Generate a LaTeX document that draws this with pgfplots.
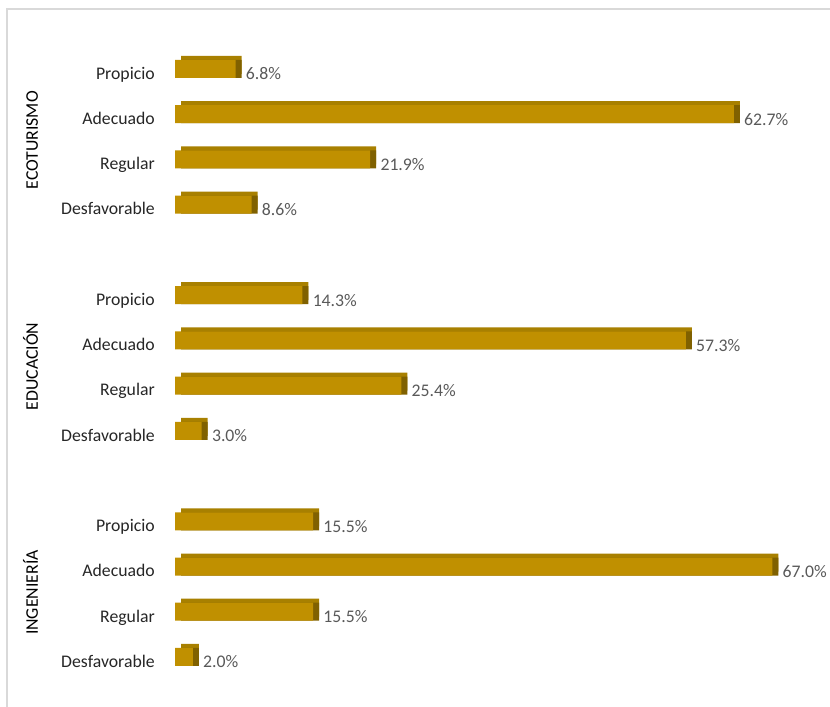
\documentclass[border=0pt]{standalone}
\usepackage{pgfplots}
\usepackage{pgfplotstable}
\pgfplotsset{compat=1.18}
\usepackage{fontspec}
\setmainfont{Carlito}
\definecolor{barfront}{HTML}{C09000}
\definecolor{bartop}{HTML}{A88000}
\definecolor{barside}{HTML}{806100}
\definecolor{valgray}{HTML}{595959}
\definecolor{catgray}{HTML}{262626}
\definecolor{framegray}{HTML}{D9D9D9}

\pgfplotstableread{
pos val
0 6.8
1 62.7
2 21.9
3 8.6
5 14.3
6 57.3
7 25.4
8 3.0
10 15.5
11 67.0
12 15.5
13 2.0
}\datatable

\begin{document}
\begin{tikzpicture}
\begin{axis}[
  scale only axis, x=6.686pt, y=33.92pt,
  xmin=-19.630, xmax=73.472, ymin=-1.5256, ymax=14.106,
  y dir=reverse, enlargelimits=false, clip=false,
  axis line style={draw=none}, major tick length=0pt,
  xtick=\empty,
  ytick={0,1,2,3,5,6,7,8,10,11,12,13},
  yticklabels={Propicio,Adecuado,Regular,Desfavorable,Propicio,Adecuado,Regular,Desfavorable,Propicio,Adecuado,Regular,Desfavorable},
  yticklabel style={anchor=base east, inner sep=0pt, xshift=116.25pt, yshift=-7.7pt, font=\fontsize{13.3}{15}\selectfont, text=catgray},
  bar width=13.5pt,
]
\addplot[xbar, bar shift=0pt, draw=none, fill=bartop, xshift=4.5pt, yshift=3pt] table[x=val,y=pos]{\datatable};
\addplot[xbar, bar shift=0pt, draw=none, fill=barside, xshift=4.5pt, yshift=0pt] table[x=val,y=pos]{\datatable};
\addplot[xbar, bar shift=0pt, draw=none, fill=barfront, point meta=x,
  nodes near coords={\pgfmathprintnumber[fixed,fixed zerofill,precision=1,assume math mode=true]{\pgfplotspointmeta}\%},
  nodes near coords style={anchor=west, inner sep=0pt, xshift=7.5pt, yshift=-3.75pt, font=\fontsize{13.3}{15}\selectfont, text=valgray}]
  table[x=val,y=pos]{\datatable};
\node[rotate=90, anchor=base, font=\fontsize{13.3}{15}\selectfont, text=black] at (axis cs:-15.37,1.577) {ECOTURISMO};
\node[rotate=90, anchor=base, font=\fontsize{13.3}{15}\selectfont, text=black] at (axis cs:-15.37,6.577) {EDUCACIÓN};
\node[rotate=90, anchor=base, font=\fontsize{13.3}{15}\selectfont, text=black] at (axis cs:-15.37,11.577) {INGENIERÍA};
\end{axis}
\pgfresetboundingbox
\path[use as bounding box] (current axis.south west) rectangle (current axis.north east);
\draw[framegray, line width=1.1pt] ([xshift=5.25pt]current axis.south west) |- ([yshift=-6.75pt]current axis.north east);
\end{tikzpicture}
\end{document}
